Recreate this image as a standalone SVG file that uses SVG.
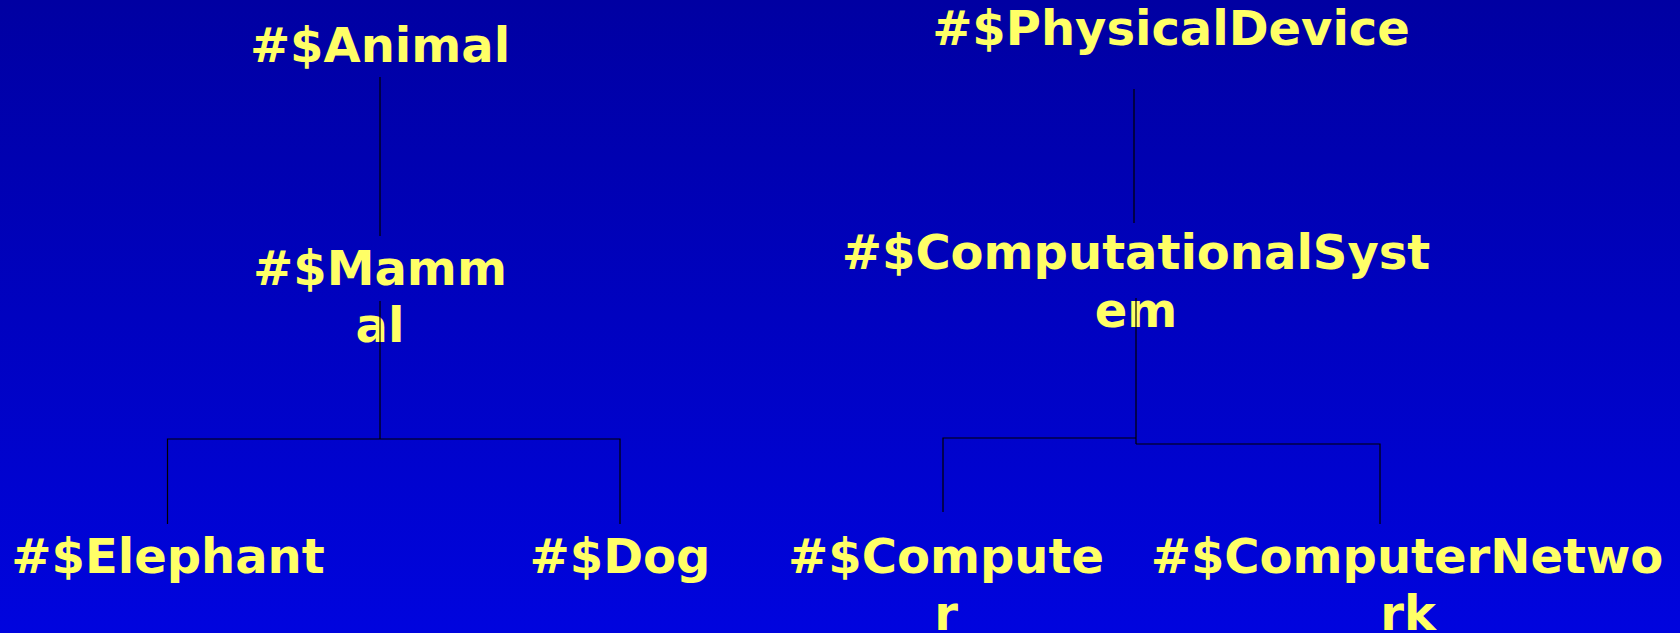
<svg xmlns="http://www.w3.org/2000/svg" width="1680" height="633" viewBox="0 0 1680 633">
<defs>
<linearGradient id="bg" x1="0" y1="0" x2="0" y2="1">
<stop offset="0" stop-color="#0000A2"/>
<stop offset="1" stop-color="#0004DE"/>
</linearGradient>
</defs>
<style>
.t{font-family:"DejaVu Sans",sans-serif;font-weight:bold;font-size:48px;fill:#FFFF66;text-anchor:middle}
.c{stroke:#000;stroke-width:1.2;fill:none}
</style>
<rect width="1680" height="633" fill="url(#bg)"/>
<g id="animal"><text class="t" x="380" y="62">#$Animal</text></g>
<g id="physicaldevice"><text class="t" x="1171" y="45">#$PhysicalDevice</text></g>
<g id="mammal"><text class="t" x="380" y="285">#$Mamm</text><text class="t" x="380" y="342">al</text></g>
<g id="computationalsystem"><text class="t" x="1136" y="269">#$ComputationalSyst</text><text class="t" x="1136" y="327">em</text></g>
<g id="elephant"><text class="t" x="168" y="573">#$Elephant</text></g>
<g id="dog"><text class="t" x="620" y="573">#$Dog</text></g>
<g id="computer"><text class="t" x="946" y="573">#$Compute</text><text class="t" x="946" y="630">r</text></g>
<g id="computernetwork"><text class="t" x="1407" y="573">#$ComputerNetwo</text><text class="t" x="1408" y="630">rk</text></g>
<g id="connectors">
<path class="c" d="M380,77V236"/>
<path class="c" d="M380,301V439M167.5,524V439H620V524"/>
<path class="c" d="M1134,89V223"/>
<path class="c" d="M1136,298V444M943,512V438H1136M1136,444H1380V524"/>
</g>
</svg>
